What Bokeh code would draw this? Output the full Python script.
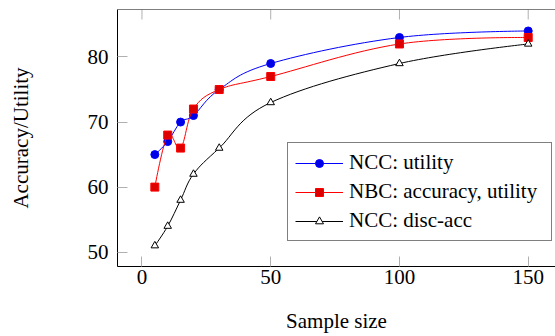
import numpy as np
from bokeh.plotting import figure
from bokeh.models import Range1d, Legend, LegendItem, FixedTicker, Span
from bokeh.embed import file_html
from bokeh.resources import INLINE

# ---- data ----
sample_size = [5, 10, 15, 20, 30, 50, 100, 150]
ncc_utility = [65, 67, 70, 71, 75, 79, 83, 84]
nbc_acc_utility = [60, 68, 66, 72, 75, 77, 82, 83]
ncc_disc_acc = [51, 54, 58, 62, 66, 73, 79, 82]
x_ticks = [0, 50, 100, 150]
y_ticks = [50, 60, 70, 80]
series_labels = ["NCC: utility", "NBC: accuracy, utility", "NCC: disc-acc"]

FONT = "Liberation Serif"
FS = "21px"
TICK_COLOR = "#b0b0b0"

# axis limits: data range enlarged by 10% (pgfplots style)
x_lo = min(sample_size) - 0.1 * (max(sample_size) - min(sample_size))
x_hi_virtual = max(sample_size) + 0.1 * (max(sample_size) - min(sample_size))
x_hi_visible = 160.6
all_y = ncc_utility + nbc_acc_utility + ncc_disc_acc
y_lo = 47.8
y_hi = max(all_y) + 0.1 * (max(all_y) - min(all_y))


def smooth(xs, ys, t=0.18):
    """TikZ-like 'smooth' cubic segments through the data points."""
    x = np.asarray(xs, float)
    y = np.asarray(ys, float)
    n = len(x)
    dx = np.zeros(n)
    dy = np.zeros(n)
    dx[1:-1] = t * (x[2:] - x[:-2])
    dy[1:-1] = t * (y[2:] - y[:-2])
    return dict(x0=x[:-1], y0=y[:-1], x1=x[1:], y1=y[1:],
                cx0=x[:-1] + dx[:-1], cy0=y[:-1] + dy[:-1],
                cx1=x[1:] - dx[1:], cy1=y[1:] - dy[1:])


p = figure(frame_width=438, frame_height=257,
           x_range=Range1d(x_lo, x_hi_visible), y_range=Range1d(y_lo, y_hi),
           output_backend="svg", toolbar_location=None,
           min_border_left=117, min_border_right=0,
           min_border_top=9, min_border_bottom=70)
p.outline_line_color = None
p.grid.visible = False
p.background_fill_color = "white"
p.border_fill_color = "white"

for ax, ticks in ((p.xaxis[0], x_ticks), (p.yaxis[0], y_ticks)):
    ax.ticker = FixedTicker(ticks=ticks)
    ax.major_tick_in = 10
    ax.major_tick_out = 0
    ax.minor_tick_line_color = None
    ax.major_tick_line_color = TICK_COLOR
    ax.axis_line_color = "black"
    ax.major_label_text_font = FONT
    ax.major_label_text_font_size = FS
    ax.major_label_text_color = "black"
    ax.axis_label_text_font = FONT
    ax.axis_label_text_font_size = FS
    ax.axis_label_text_font_style = "normal"
    ax.axis_label_text_color = "black"

p.xaxis.axis_label = "Sample size"
p.yaxis.axis_label = "Accuracy/Utility"
p.xaxis.major_label_standoff = 3
p.xaxis.axis_label_standoff = 22
p.yaxis.major_label_standoff = 9
p.yaxis.axis_label_standoff = 52

# top frame line and mirrored ticks (top and right, pgfplots style)
p.add_layout(Span(location=y_hi, dimension="width", line_color="black", line_width=1))
p.ray(x=x_ticks, y=[y_hi] * len(x_ticks), length=10, length_units="screen",
      angle=-np.pi / 2, line_color=TICK_COLOR, line_width=1)
p.ray(x=[x_hi_virtual] * len(y_ticks), y=y_ticks, length=10, length_units="screen",
      angle=np.pi, line_color=TICK_COLOR, line_width=1)

styles = [
    (ncc_utility, "blue", "circle", "#0000e6", "blue", 8),
    (nbc_acc_utility, "red", "square", "#dd0000", "red", 8),
    (ncc_disc_acc, "black", "triangle", "white", "black", 7.5),
]
items = []
for (vals, lc, marker, fc, mc, size), lab in zip(styles, series_labels):
    seg = smooth(sample_size, vals)
    r_line = p.bezier(x0=seg["x0"], y0=seg["y0"], x1=seg["x1"], y1=seg["y1"],
                      cx0=seg["cx0"], cy0=seg["cy0"], cx1=seg["cx1"], cy1=seg["cy1"],
                      line_color=lc, line_width=1)
    r_pts = p.scatter(sample_size, vals, marker=marker, size=size,
                      fill_color=fc, line_color=mc, line_width=1)
    items.append(LegendItem(label=lab, renderers=[r_line, r_pts]))

legend = Legend(items=items, location=(170, 25),
                label_text_font=FONT, label_text_font_size=FS,
                label_text_color="black",
                glyph_width=48, glyph_height=20, label_height=20,
                label_width=195, label_standoff=6,
                spacing=4, padding=7, margin=0,
                border_line_color="black", border_line_width=1,
                background_fill_color="white", background_fill_alpha=1)
p.add_layout(legend, "center")

open("out.html", "w").write(file_html(p, INLINE))
